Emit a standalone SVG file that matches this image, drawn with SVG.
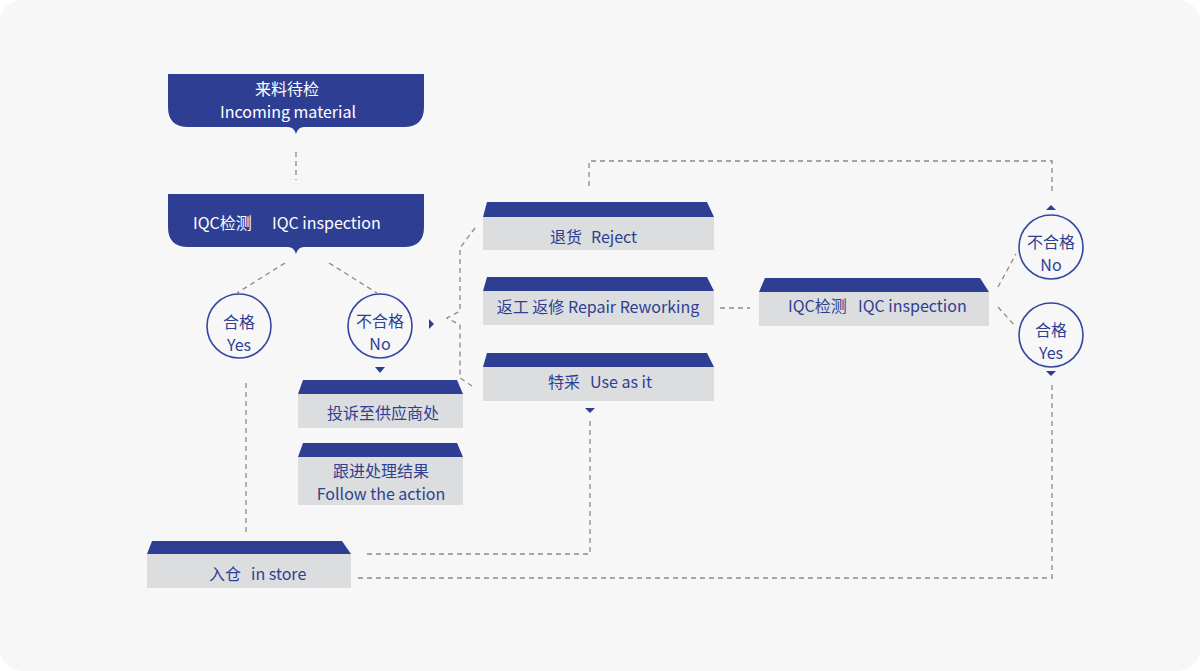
<svg xmlns="http://www.w3.org/2000/svg" width="1200" height="671" viewBox="0 0 1200 671">
<style>
text{font-family:"Noto Sans CJK SC","Noto Sans",sans-serif;font-size:16px;dominant-baseline:central;text-anchor:middle}
.s{text-anchor:start}
.w{fill:#ffffff}
.b{fill:#2e3f93}
.hdr{fill:#2e3f93}
.top{fill:#2e3f93}
.body{fill:#dcdddf}
.circ{fill:none;stroke:#3446a0;stroke-width:1.6}
.tri{fill:#2e3f93}
.dash{fill:none;stroke:#8a8a8a;stroke-width:1.3;stroke-dasharray:5 4}
</style>
<rect x="0" y="0" width="1200" height="671" fill="#ffffff"/>
<rect x="0" y="0" width="1200" height="671" rx="22" fill="#f7f7f7"/>

<g id="connectors">
<line class="dash" x1="296" y1="152" x2="296" y2="180"/>
<line class="dash" x1="285" y1="263" x2="237" y2="293"/>
<line class="dash" x1="329" y1="263" x2="377" y2="293"/>
<path class="dash" d="M475,228 L460,248 L460,311 L447,318 L460,325 L460,378 L475,388"/>
<line class="dash" x1="720" y1="308" x2="750" y2="308"/>
<line class="dash" x1="998" y1="287" x2="1016" y2="254"/>
<line class="dash" x1="998" y1="307" x2="1016" y2="327"/>
<path class="dash" d="M589,186 V161 H1052 V194"/>
<line class="dash" x1="246" y1="383" x2="246" y2="533"/>
<path class="dash" d="M367,554 H590 V418"/>
<path class="dash" d="M358,578 H1052 V381"/>
</g>

<g id="n-incoming">
<path class="hdr" d="M168,74 H424 V107 Q424,127 404,127 H304 Q298,127 296,134 Q294,127 288,127 H188 Q168,127 168,107 Z"/>
<text class="w" x="287" y="88">来料待检</text>
<text class="w" x="288" y="111">Incoming material</text>
</g>

<g id="n-iqc1">
<path class="hdr" d="M168,194 H424 V227 Q424,247 404,247 H304 Q298,247 296,254 Q294,247 288,247 H188 Q168,247 168,227 Z"/>
<text class="w s" x="193" y="222">IQC检测</text>
<text class="w s" x="272" y="222">IQC inspection</text>
</g>

<g id="n-yes1">
<circle class="circ" cx="239" cy="326" r="32"/>
<text class="b" x="239" y="321">合格</text>
<text class="b" x="239" y="344">Yes</text>
</g>

<g id="n-no1">
<circle class="circ" cx="380" cy="326" r="32"/>
<text class="b" x="380" y="320">不合格</text>
<text class="b" x="380" y="343">No</text>
<polygon class="tri" points="375,367 385,367 380,373"/>
<polygon class="tri" points="429,319 434,324 429,329"/>
</g>

<g id="n-complain">
<polygon class="top" points="303,380 457,380 463,394 298,394"/>
<rect class="body" x="298" y="394" width="165" height="34"/>
<text class="b" x="383" y="412">投诉至供应商处</text>
</g>

<g id="n-follow">
<polygon class="top" points="303,443 457,443 463,457 298,457"/>
<rect class="body" x="298" y="457" width="165" height="48"/>
<text class="b" x="381" y="470">跟进处理结果</text>
<text class="b" x="381" y="493">Follow the action</text>
</g>

<g id="n-reject">
<polygon class="top" points="487,202 707,202 714,217 483,217"/>
<rect class="body" x="483" y="217" width="231" height="33"/>
<text class="b s" x="550" y="236">退货</text>
<text class="b s" x="591" y="236">Reject</text>
</g>

<g id="n-repair">
<polygon class="top" points="487,277 707,277 714,291 483,291"/>
<rect class="body" x="483" y="291" width="231" height="34"/>
<text class="b" x="598" y="306">返工 返修 Repair Reworking</text>
</g>

<g id="n-use">
<polygon class="top" points="487,353 707,353 714,367 483,367"/>
<rect class="body" x="483" y="367" width="231" height="34"/>
<text class="b s" x="548" y="381">特采</text>
<text class="b s" x="590" y="381">Use as it</text>
<polygon class="tri" points="585,408 595,408 590,413"/>
</g>

<g id="n-iqc2">
<polygon class="top" points="765,278 980,278 989,292 759,292"/>
<rect class="body" x="759" y="292" width="230" height="34"/>
<text class="b s" x="788" y="305">IQC检测</text>
<text class="b s" x="858" y="305">IQC inspection</text>
</g>

<g id="n-no2">
<circle class="circ" cx="1051" cy="247" r="32"/>
<text class="b" x="1051" y="241">不合格</text>
<text class="b" x="1051" y="264">No</text>
<polygon class="tri" points="1046,210 1056,210 1051,205"/>
</g>

<g id="n-yes2">
<circle class="circ" cx="1051" cy="335" r="32"/>
<text class="b" x="1051" y="329">合格</text>
<text class="b" x="1051" y="352">Yes</text>
<polygon class="tri" points="1046,371 1056,371 1051,376"/>
</g>

<g id="n-store">
<polygon class="top" points="152,541 342,541 351,554 147,554"/>
<rect class="body" x="147" y="554" width="204" height="34"/>
<text class="b s" x="209" y="573">入仓</text>
<text class="b s" x="251" y="573">in store</text>
</g>
</svg>
